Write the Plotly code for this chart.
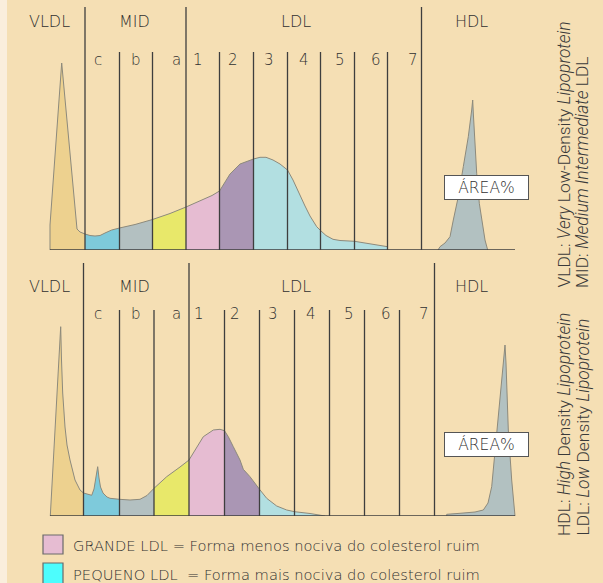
import plotly.graph_objects as go

W, H = 603, 583

# ---------------- data ----------------
# Lipoprint profile, upper panel (x = migration position, y = intensity)
top_x = [50, 50, 61.7, 77, 80, 85, 90, 95, 100, 105, 111.7, 119.5, 135, 152.5, 170, 186,
         200, 212, 219.5, 225, 230, 240, 253.5, 260, 266, 273, 280, 287.5, 293, 300, 305,
         310, 316.7, 320.5, 326, 333, 340, 354.5, 370, 387.5, 387.5]
top_y = [0, 25, 187, 21, 18, 16, 14.5, 14, 14.5, 17, 20, 22, 25.5, 30.5, 36.5, 43,
         49, 54.5, 59, 68, 76, 86, 91, 92.7, 92.7, 90, 86, 80, 70, 54, 44,
         34, 23.3, 19.5, 14.5, 10.7, 9.5, 8.7, 6, 3.3, 0]
top_hdl_x = [438, 440, 445, 450, 453.3, 458.3, 463.3, 468.3, 471.7, 472.7, 473.3, 475,
             476.7, 479.3, 481.7, 485, 487.7]
top_hdl_y = [0, 3.3, 7, 13.3, 30, 53.3, 83.3, 113.3, 140, 150, 137, 103.3,
             76.7, 46.7, 30, 10, 0]

# Lipoprint profile, lower panel
bot_x = [50.3, 60.7, 61.5, 62.7, 65, 67, 70, 75, 80, 83.5, 88.3, 91.7, 94, 96, 97.7, 99,
         100.5, 103, 107, 110, 119.5, 130, 140, 147, 154, 166.7, 180, 189, 196.7, 203.3,
         213.3, 220, 224.5, 228.3, 233.3, 240, 243.3, 250, 259.5, 266.7, 276.7, 286.7,
         294.5, 310, 325]
bot_y = [0, 189.3, 156, 123, 89, 71, 56, 36, 26, 23, 21.7, 20.7, 27, 37, 49.3, 38,
         29, 23, 19, 17.7, 16.7, 16, 16.7, 20.5, 27.7, 39.3, 49, 56, 69.3, 79.3,
         86, 86.7, 85.3, 79.3, 69.3, 56, 46.7, 39.3, 26.7, 17.7, 10, 6,
         4.3, 2.5, 0]
bot_hdl_x = [446.7, 446.7, 460, 475, 483.3, 488, 491.7, 494.5, 500, 503.3, 505, 506,
             508.3, 511.7, 515]
bot_hdl_y = [0, 1.7, 2.7, 4, 6, 13, 29.3, 59.3, 119.3, 159.3, 171, 153,
             86, 36, 0]

# fractions (colour bands) and separators
fractions = ["VLDL", "c", "b", "a", "1", "2", "3"]
top_fill_edges = [50, 85, 119.5, 152.5, 186, 219.5, 253.5, 387.5]
bot_fill_edges = [50.3, 83.5, 119.5, 154, 189, 224.5, 259.5, 325]

top_bounds = [85, 119.5, 152.5, 186, 219.5, 253.5, 287.5, 320.5, 354.5, 387.5, 421.5]
top_long = [85, 186, 421.5]
bot_bounds = [83.5, 119.5, 154, 189, 224.5, 259.5, 294.5, 329.5, 364.5, 399.5, 434.5]
bot_long = [83.5, 189, 434.5]

region_labels = ["VLDL", "MID", "LDL", "HDL"]
sub_labels = ["c", "b", "a", "1", "2", "3", "4", "5", "6", "7"]

legend_labels = ["GRANDE LDL = Forma menos nociva do colesterol ruim",
                 "PEQUENO LDL\u00a0\u00a0= Forma mais nociva do colesterol ruim"]
side_notes_top = ["VLDL: <i>Very</i> Low-Density <i>Lipoprotein</i>",
                  "MID: <i>Medium Intermediate</i> LDL"]
side_notes_bot = ["HDL: <i>High</i> Density <i>Lipoprotein</i>",
                  "LDL: <i>Low</i> Density <i>Lipoprotein</i>"]

# ---------------- styles / layout positions ----------------
COLORS = {"VLDL": "#edd18f", "c": "#7ecadb", "b": "#b3c0c1", "a": "#e8e86a",
          "1": "#e6bcd2", "2": "#aa96b4", "3": "#b2dfe1", "HDL": "#b2c1c1"}
OUTLINE = "#8d8a7c"
SEP = "#3e3e3e"
TXT = "#303030"
FONT = "DejaVu Sans"
FW = 200
BG = "#f5dfb4"

top_label_x = [49.5, 134, 295.5, 471.3]
top_sub_x = [97.5, 136, 176, 198.3, 233.3, 268.8, 303.5, 340, 375.8, 412.5]
bot_label_x = [49.5, 134.5, 295.5, 471.3]
bot_sub_x = [97.5, 136, 176, 199, 235, 272.5, 310.5, 348.5, 386.2, 423.8]

panels = [
    dict(xa="x", ya="y", cx=top_x, cy=top_y, hx=top_hdl_x, hy=top_hdl_y,
         edges=top_fill_edges, bounds=top_bounds, long=top_long,
         long_top=243, short_top=198, lab_y=228.3, sub_y=189.7,
         lab_x=top_label_x, sub_x=top_sub_x, box_y=62.5),
    dict(xa="x2", ya="y2", cx=bot_x, cy=bot_y, hx=bot_hdl_x, hy=bot_hdl_y,
         edges=bot_fill_edges, bounds=bot_bounds, long=bot_long,
         long_top=253, short_top=206, lab_y=229.5, sub_y=201.7,
         lab_x=bot_label_x, sub_x=bot_sub_x, box_y=71.2),
]


def fnt(size):
    return dict(family=FONT, size=size, color=TXT, weight=FW)


fig = go.Figure()
annotations = []
for p in panels:
    # coloured fractions
    for i, name in enumerate(fractions):
        lo, hi = p["edges"][i], p["edges"][i + 1]
        xs = [x for x in p["cx"] if lo <= x <= hi]
        ys = [y for x, y in zip(p["cx"], p["cy"]) if lo <= x <= hi]
        fig.add_trace(go.Scatter(x=xs, y=ys, mode="lines", fill="tozeroy",
                                 fillcolor=COLORS[name],
                                 line=dict(color=OUTLINE, width=1),
                                 xaxis=p["xa"], yaxis=p["ya"], hoverinfo="skip"))
    # HDL peak
    fig.add_trace(go.Scatter(x=p["hx"], y=p["hy"], mode="lines", fill="tozeroy",
                             fillcolor=COLORS["HDL"], line=dict(color=OUTLINE, width=1),
                             xaxis=p["xa"], yaxis=p["ya"], hoverinfo="skip"))
    # separators
    vx, vy = [], []
    for b in p["bounds"]:
        top = p["long_top"] if b in p["long"] else p["short_top"]
        vx += [b, b, None]
        vy += [0, top, None]
    fig.add_trace(go.Scatter(x=vx, y=vy, mode="lines", line=dict(color=SEP, width=1.3),
                             xaxis=p["xa"], yaxis=p["ya"], hoverinfo="skip"))
    # baseline
    fig.add_trace(go.Scatter(x=[50, 515], y=[0, 0], mode="lines",
                             line=dict(color=SEP, width=1.4),
                             xaxis=p["xa"], yaxis=p["ya"], hoverinfo="skip"))
    for lab, lx in zip(region_labels, p["lab_x"]):
        annotations.append(dict(x=lx, y=p["lab_y"], xref=p["xa"], yref=p["ya"], text=lab,
                                showarrow=False, font=fnt(16)))
    for lab, lx in zip(sub_labels, p["sub_x"]):
        annotations.append(dict(x=lx, y=p["sub_y"], xref=p["xa"], yref=p["ya"], text=lab,
                                showarrow=False, font=fnt(15)))
    annotations.append(dict(x=486.6, y=p["box_y"], xref=p["xa"], yref=p["ya"], text="ÁREA%",
                            showarrow=False, bgcolor="white", bordercolor="#555555",
                            borderwidth=1, borderpad=1, width=81, height=21,
                            font=fnt(15.5)))


def px(x):
    return x / W


def py(y):
    return 1 - y / H


side_font = dict(family="Roboto", size=17.4, color="#3a3a3a", weight=300)
# side notes (rotated)
for txt, cx in zip(side_notes_top, [563.5, 582]):
    annotations.append(dict(x=px(cx), y=py(290), xref="paper", yref="paper", text=txt,
                            textangle=-90, xanchor="center", yanchor="bottom",
                            showarrow=False, font=side_font))
for txt, cx in zip(side_notes_bot, [563.5, 582]):
    annotations.append(dict(x=px(cx), y=py(538), xref="paper", yref="paper", text=txt,
                            textangle=-90, xanchor="center", yanchor="bottom",
                            showarrow=False, font=side_font))

# legend
legend_colors = [COLORS["1"], "#4dfdfd"]
legend_rows = [(535, 554, 545), (563, 586, 574)]
shapes = [dict(type="rect", xref="paper", yref="paper", x0=0, x1=px(7), y0=0, y1=1,
               fillcolor="#faeedc", line=dict(width=0), layer="below")]
for lab, col, (y0, y1, yc) in zip(legend_labels, legend_colors, legend_rows):
    shapes.append(dict(type="rect", xref="paper", yref="paper", x0=px(43), x1=px(63),
                       y0=py(y1), y1=py(y0), fillcolor=col,
                       line=dict(color="#6a6a6a", width=1.2)))
    annotations.append(dict(x=px(71), y=py(yc), xref="paper", yref="paper", text=lab,
                            xanchor="left", yanchor="middle", showarrow=False,
                            font=fnt(14.7)))

ax = dict(visible=False, fixedrange=True, range=[0, W], domain=[0, 1])
fig.update_layout(
    width=W, height=H, margin=dict(l=0, r=0, t=0, b=0),
    paper_bgcolor=BG, plot_bgcolor="rgba(0,0,0,0)", showlegend=False,
    xaxis=dict(ax, anchor="y"),
    yaxis=dict(visible=False, fixedrange=True, range=[0, 250], domain=[1 - 250 / H, 1], anchor="x"),
    xaxis2=dict(ax, anchor="y2"),
    yaxis2=dict(visible=False, fixedrange=True, range=[0, 260],
                domain=[1 - 516 / H, 1 - 256 / H], anchor="x2"),
    annotations=annotations, shapes=shapes,
)

fig.write_html("out.html", config={"displayModeBar": False},
               post_script="document.body.style.margin='0';document.body.style.overflow='hidden';")
